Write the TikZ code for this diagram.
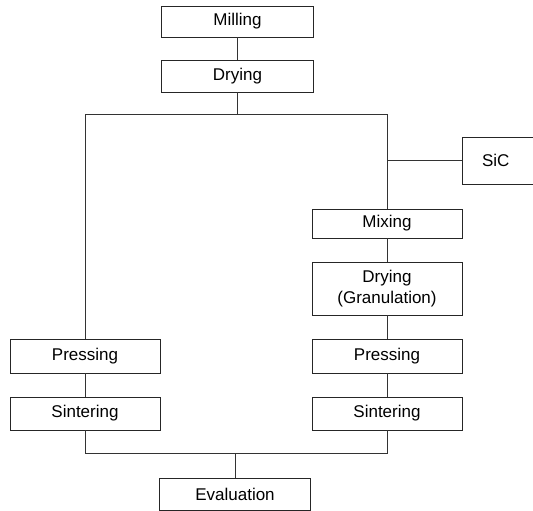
\documentclass[tikz,border=0pt]{standalone}
\usepackage{fontspec}
\setmainfont{Liberation Sans}

\begin{document}
\begin{tikzpicture}[x=1pt,y=-1pt,line width=0.8pt,
  stage/.style={draw=black!85,rectangle,inner sep=0pt,minimum width=150pt,
    align=center,font=\fontsize{17}{21}\selectfont},
  link/.style={draw=black!80,line width=0.8pt}]
  \useasboundingbox (0,0) rectangle (533,511);
  \node[stage,minimum width=152pt,minimum height=31pt] (mill) at (237.5,21.5) {Milling};
  \node[stage,minimum width=152pt,minimum height=32pt] (dry) at (237.5,76) {Drying};
  \node[stage,minimum height=29pt] (mix) at (387,223.5) {Mixing};
  \node[stage,minimum height=53pt] (gran) at (387,288.5) {Drying\\(Granulation)};
  \node[stage,minimum height=34pt] (pressR) at (387,356) {Pressing};
  \node[stage,minimum height=33pt] (sinterR) at (387,413.5) {Sintering};
  \node[stage,minimum height=34pt] (pressL) at (85,356) {Pressing};
  \node[stage,minimum height=33pt] (sinterL) at (85,413.5) {Sintering};
  \node[stage,minimum width=151pt,minimum height=32pt] (eval) at (235,494) {Evaluation};
  \node[stage,minimum width=84pt,minimum height=47pt,text width=74pt,align=left] (sic) at (504,160.5) {\hspace*{15pt}SiC};
  \coordinate (split) at (237.5,114);
  \coordinate (join) at (235,453);
  \draw[link] (mill) -- (dry);
  \draw[link] (dry) -- (split);
  \draw[link] (pressL.north) -- (pressL.north |- split) -- (mix.north |- split) -- (mix.north);
  \draw[link] (sic.west) -- (sic.west -| mix.north);
  \draw[link] (mix) -- (gran);
  \draw[link] (gran) -- (pressR);
  \draw[link] (pressR) -- (sinterR);
  \draw[link] (pressL) -- (sinterL);
  \draw[link] (sinterL.south) -- (sinterL.south |- join) -- (sinterR.south |- join) -- (sinterR.south);
  \draw[link] (join) -- (eval);
\end{tikzpicture}
\end{document}
